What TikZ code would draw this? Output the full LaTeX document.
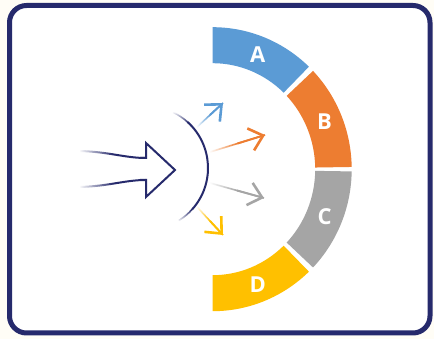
\documentclass[tikz,border=0pt]{standalone}
\usepackage{fontspec}
\setsansfont{Open Sans}
\usetikzlibrary{arrows.meta,fadings,calc}

\definecolor{frame}{HTML}{262A6C}
\definecolor{partA}{HTML}{5B9BD5}
\definecolor{partB}{HTML}{ED7D31}
\definecolor{partC}{HTML}{A5A5A5}
\definecolor{partD}{HTML}{FFC000}
\definecolor{paper}{HTML}{FFFDF6}

\tikzfading[name=fade from left, left color=transparent!100, right color=transparent!0, middle color=transparent!0]
\tikzfading[name=fade up, bottom color=transparent!0, top color=transparent!100]
\tikzfading[name=fade down, top color=transparent!0, bottom color=transparent!100]

\begin{document}
\begin{tikzpicture}[
  x=1pt, y=1pt,
  letter/.style={text=white, font=\sffamily\bfseries\fontsize{22}{22}\selectfont},
  ray/.style={draw=#1, line width=1.6pt, path fading=fade from left},
  rayhead/.style={draw=#1, line width=1.9pt,
    -{Straight Barb[length=13pt, width=23pt, line width=2.6pt]}},
  inflow/.style={draw=frame, line width=2pt, line join=miter}
]
\fill[paper] (0,0) rectangle (434,339);
\useasboundingbox (0,0) rectangle (434,339);
\draw[frame, line width=5pt, fill=white, rounded corners=17pt] (9.5,6) rectangle (430,333.5);

% ring of four parts
\coordinate (ctr) at (212.7,169.8);
\foreach \a/\b/\col/\txt in {90/46.2/partA/A, 43.8/0.9/partB/B, -0.9/-43.8/partC/C, -46.2/-90/partD/D} {
  \fill[\col] ([shift={(\a:139 and 142)}]ctr) arc[start angle=\a, end angle=\b, x radius=139, y radius=142]
    -- ([shift={(\b:102.5 and 106)}]ctr) arc[start angle=\b, end angle=\a, x radius=102.5, y radius=106] -- cycle;
  \node[letter] (seg\txt) at ([shift={({(\a+\b)/2}:121 and 124)}]ctr) {\txt};
}

% incoming arrow
\draw[inflow, path fading=fade from left] (80,188) .. controls (110,187) and (125,181) .. (146,181);
\draw[inflow, path fading=fade from left] (80,152) .. controls (110,153) and (125,159) .. (146,159);
\draw[inflow] (140,181) -- (146,181) -- (146,196) -- (175,169) -- (146,142) -- (146,159) -- (140,159);

% splitting arc
\coordinate (arcctr) at (146,171);
\draw[frame, line width=2pt] ([shift={(48:62)}]arcctr) arc[start angle=48, end angle=-42, radius=62];
\draw[frame, line width=1.6pt, path fading=fade up] ([shift={(48:62)}]arcctr) arc[start angle=48, end angle=64, radius=62];
\draw[frame, line width=1.6pt, path fading=fade down] ([shift={(-42:62)}]arcctr) arc[start angle=-42, end angle=-58, radius=62];

% outgoing rays, faded shafts and solid heads
\coordinate (fromA) at (197,212); \coordinate (toA) at (223,236);
\coordinate (fromB) at (210,187); \coordinate (toB) at (265,204);
\coordinate (fromC) at (210,156); \coordinate (toC) at (264,141);
\coordinate (fromD) at (197,132); \coordinate (toD) at (223,104);
\foreach \p/\col in {A/partA, B/partB, C/partC, D/partD} {
  \draw[ray=\col] (from\p) -- (to\p);
  \draw[rayhead=\col] ($(from\p)!0.5!(to\p)$) -- (to\p);
}
\end{tikzpicture}
\end{document}
